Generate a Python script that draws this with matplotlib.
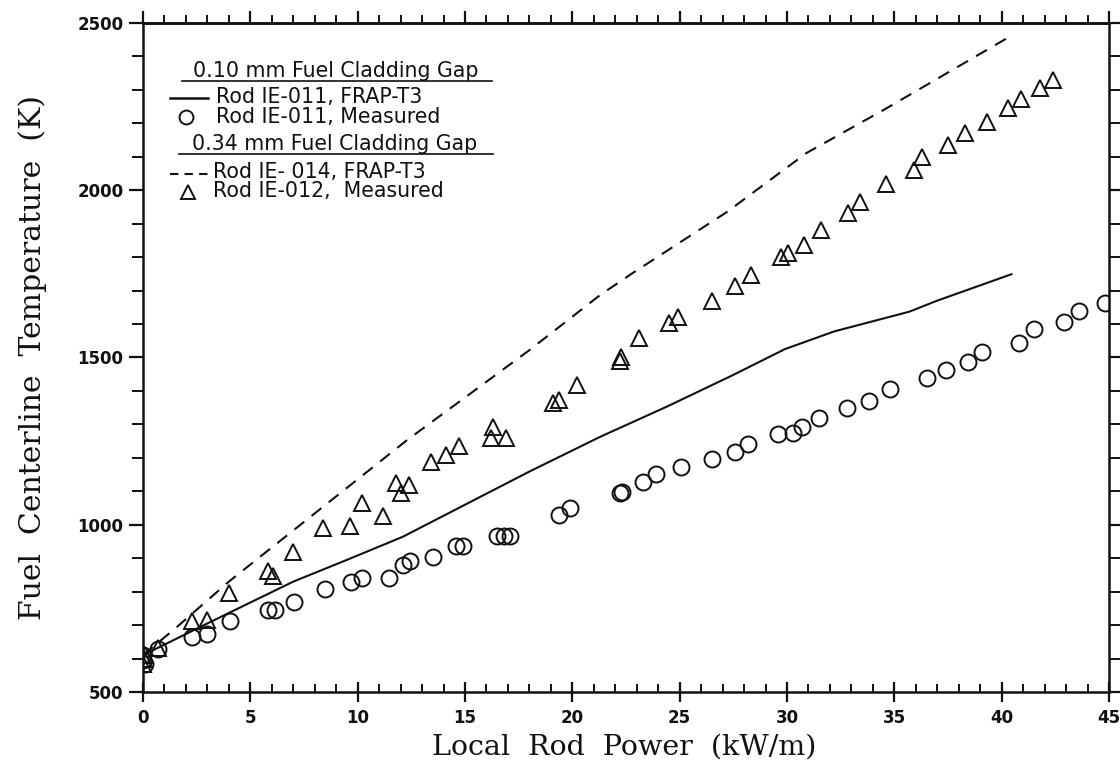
import matplotlib
matplotlib.use("Agg")
import matplotlib.pyplot as plt
from matplotlib.lines import Line2D
from matplotlib.ticker import MultipleLocator, NullFormatter

# Measured centerline temperatures, rod IE-011 (0.10 mm gap)
ie011_power = [0, 0, 0.1, 0.7, 2.3, 3.0, 4.05, 5.8, 6.15, 7.05, 8.5, 9.7, 10.2,
               11.45, 12.1, 12.45, 13.5, 14.6, 14.9, 16.5, 16.8, 17.1, 19.4, 19.9,
               22.2, 22.3, 23.3, 23.9, 25.05, 26.5, 27.6, 28.2, 29.6, 30.3, 30.7,
               31.5, 32.8, 33.8, 34.8, 36.5, 37.4, 38.45, 39.1, 40.8, 41.5, 42.9,
               43.6, 44.8]
ie011_temp = [595, 610, 585, 630, 665, 673, 712, 745, 745, 768, 807, 830, 840,
              840, 880, 893, 905, 935, 937, 965, 967, 967, 1028, 1050,
              1095, 1099, 1129, 1151, 1174, 1196, 1218, 1241, 1270, 1275, 1293,
              1320, 1350, 1371, 1405, 1438, 1463, 1487, 1517, 1544, 1584, 1607,
              1640, 1662]

# Measured centerline temperatures, rod IE-012 (0.34 mm gap)
ie012_power = [0, 0.05, 0.1, 0.7, 2.3, 3.0, 4.0, 5.8, 6.05, 7.0, 8.4, 9.65, 10.2,
               11.2, 11.8, 12.0, 12.4, 13.4, 14.1, 14.7, 16.2, 16.3, 16.9, 19.1,
               19.4, 20.2, 22.2, 22.25, 23.1, 24.5, 24.9, 26.5, 27.6, 28.3, 29.7,
               30.05, 30.8, 31.6, 32.85, 33.4, 34.6, 35.9, 36.3, 37.5, 38.3, 39.3,
               40.3, 40.9, 41.8, 42.4]
ie012_temp = [585, 600, 612, 632, 712, 715, 795, 862, 846, 919, 989, 996, 1064,
              1026, 1126, 1094, 1119, 1188, 1208, 1235, 1260, 1293, 1260, 1365,
              1372, 1418, 1490, 1502, 1557, 1603, 1622, 1670, 1715, 1747, 1799,
              1811, 1836, 1881, 1931, 1966, 2020, 2060, 2100, 2135, 2170, 2205,
              2245, 2274, 2307, 2330]

# FRAP-T3 predictions
frap011_power = [0, 3.0, 7.0, 9.5, 12.1, 18.0, 21.3, 24.4, 27.5, 29.9, 32.2,
                 35.7, 37.0, 40.5]
frap011_temp = [610, 705, 830, 895, 964, 1159, 1263, 1353, 1448, 1525, 1578,
                1637, 1670, 1750]
frap014_power = [0, 1.5, 4.0, 8.0, 12.3, 18.0, 21.3, 22.8, 27.2, 30.9, 34.5, 40.5]
frap014_temp = [610, 690, 830, 1034, 1253, 1522, 1687, 1752, 1935, 2111, 2240, 2464]

legend_heads = ["0.10 mm Fuel Cladding Gap", "0.34 mm Fuel Cladding Gap"]
legend_rows = ["Rod IE-011, FRAP-T3", "Rod IE-011, Measured",
               "Rod IE- 014, FRAP-T3", "Rod IE-012,  Measured"]

W, H = 1120, 771
fig = plt.figure(figsize=(W / 100, H / 100), dpi=100)
fig.patch.set_facecolor("white")

L, R, B, T = 143, 1109, 692, 23
ax = fig.add_axes([L / W, 1 - B / H, (R - L) / W, (B - T) / H])

ink = "#111111"
ax.plot(frap011_power, frap011_temp, color=ink, lw=1.5, solid_capstyle="butt")
ax.plot(frap014_power, frap014_temp, color=ink, lw=1.5, dashes=(6, 4.5))
ax.plot(ie011_power, ie011_temp, ls="none", marker="o", ms=11.5,
        mfc="none", mec=ink, mew=1.4)
ax.plot(ie012_power, ie012_temp, ls="none", marker="^", ms=11.5,
        mfc="none", mec=ink, mew=1.4)

ax.set_xlim(0, 45)
ax.set_ylim(500, 2500)
ax.xaxis.set_major_locator(MultipleLocator(5))
ax.xaxis.set_minor_locator(MultipleLocator(1))
ax.yaxis.set_major_locator(MultipleLocator(500))
ax.yaxis.set_minor_locator(MultipleLocator(100))

for s in ax.spines.values():
    s.set_linewidth(1.8)
    s.set_color(ink)

# bottom: major ticks cross the spine, minor ticks point inward
ax.tick_params(axis="x", which="major", bottom=True, top=False, direction="inout",
               length=14, width=1.6, color=ink, pad=5)
ax.tick_params(axis="x", which="minor", bottom=True, top=False, direction="in",
               length=6, width=1.4, color=ink)
ax.tick_params(axis="y", which="major", left=True, right=True, direction="out",
               length=10, width=1.6, color=ink, pad=4)
ax.tick_params(axis="y", which="minor", left=True, right=True, direction="out",
               length=8, width=1.4, color=ink)
ax.tick_params(axis="both", labelsize=12, labelcolor=ink)
for lab in ax.get_xticklabels() + ax.get_yticklabels():
    lab.set_fontweight("bold")
    lab.set_family("DejaVu Sans")

# top edge: outward ticks, no labels
top = ax.secondary_xaxis("top")
top.xaxis.set_major_locator(MultipleLocator(5))
top.xaxis.set_minor_locator(MultipleLocator(1))
top.xaxis.set_major_formatter(NullFormatter())
top.tick_params(which="major", direction="out", length=9, width=1.6, color=ink)
top.tick_params(which="minor", direction="out", length=6, width=1.4, color=ink)
top.spines["top"].set_linewidth(1.8)

serif = ["DejaVu Serif"]
fig.text(624 / W, 1 - 755 / H, "Local  Rod  Power  (kW/m)", ha="center",
         va="baseline", fontsize=20.5, family=serif, color=ink)
fig.text(33 / W, 1 - 357 / H, "Fuel  Centerline  Temperature  (K)", ha="center",
         va="center", rotation=90, fontsize=21.5, family=serif, color=ink)


def fx(x):
    return x / W


def fy(y):
    return 1 - y / H


def fig_line(xs, ys, **kw):
    fig.add_artist(Line2D([fx(v) for v in xs], [fy(v) for v in ys],
                          transform=fig.transFigure, **kw))


sans = ["DejaVu Sans"]
lfs = 14.8
# headings with underlines
fig.text(fx(193), fy(77), legend_heads[0], fontsize=lfs, family=sans,
         va="baseline", ha="left", color=ink)
fig_line([182, 492], [81, 81], color=ink, lw=1.2)
fig.text(fx(192), fy(150), legend_heads[1], fontsize=lfs, family=sans,
         va="baseline", ha="left", color=ink)
fig_line([179, 493], [154, 154], color=ink, lw=1.2)

# legend entries
fig_line([170, 208], [98, 98], color=ink, lw=1.8)
fig.text(fx(216), fy(103), legend_rows[0], fontsize=lfs, family=sans,
         va="baseline", ha="left", color=ink)
fig_line([186], [117], ls="none", marker="o", ms=10, mfc="none", mec=ink, mew=1.4)
fig.text(fx(216), fy(123), legend_rows[1], fontsize=lfs, family=sans,
         va="baseline", ha="left", color=ink)
fig_line([170, 210], [174, 174], color=ink, lw=1.5, dashes=(4, 3))
fig.text(fx(213), fy(178), legend_rows[2], fontsize=lfs, family=sans,
         va="baseline", ha="left", color=ink)
fig_line([188], [192], ls="none", marker="^", ms=10, mfc="none", mec=ink, mew=1.4)
fig.text(fx(213), fy(197), legend_rows[3], fontsize=lfs, family=sans,
         va="baseline", ha="left", color=ink)

fig.savefig("out.png", dpi=100, facecolor="white")
